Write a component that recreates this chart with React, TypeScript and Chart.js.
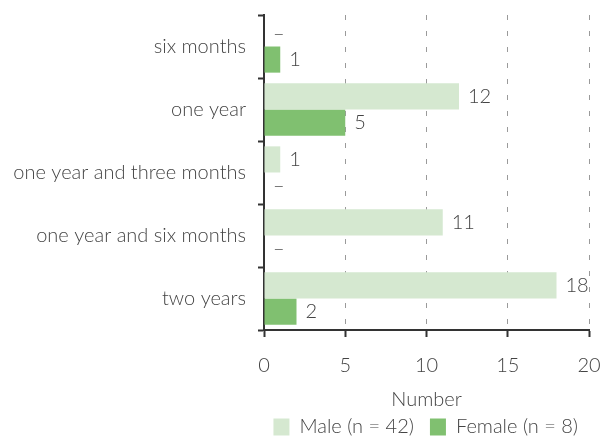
import React, { useEffect, useRef } from "react";
import { Chart, registerables } from "chart.js";

Chart.register(...registerables);

const categories = [
  "six months",
  "one year",
  "one year and three months",
  "one year and six months",
  "two years",
];
const maleValues = [0, 12, 1, 11, 18];
const femaleValues = [1, 5, 0, 0, 2];
const seriesNames = ["Male (n = 42)", "Female (n = 8)"];
const xTitle = "Number";

const FONT = "Lato";
const TEXT = "#444";
const SIZE = 20;

const valueLabels = {
  id: "valueLabels",
  afterDatasetsDraw(chart: any) {
    const ctx = chart.ctx;
    ctx.save();
    ctx.font = `300 ${SIZE}px ${FONT}`;
    ctx.fillStyle = TEXT;
    ctx.textBaseline = "middle";
    ctx.textAlign = "left";
    chart.data.datasets.forEach((ds: any, i: number) => {
      const meta = chart.getDatasetMeta(i);
      meta.data.forEach((el: any, j: number) => {
        const v = ds.data[j];
        const txt = v === 0 ? "–" : String(v);
        ctx.fillText(txt, el.x + 9, el.y);
      });
    });
    ctx.restore();
  },
};

export default function App() {
  const ref = useRef<HTMLCanvasElement | null>(null);
  useEffect(() => {
    document.body.style.margin = "0";
    const font = { family: FONT, size: SIZE, weight: "300" as any };
    const chart = new Chart(ref.current!, {
      type: "bar",
      data: {
        labels: categories,
        datasets: [
          {
            label: seriesNames[0],
            data: maleValues,
            backgroundColor: "#d5e8d0",
            categoryPercentage: 0.83,
            barPercentage: 1,
          },
          {
            label: seriesNames[1],
            data: femaleValues,
            backgroundColor: "#80c070",
            categoryPercentage: 0.83,
            barPercentage: 1,
          },
        ],
      },
      options: {
        indexAxis: "y",
        animation: false,
        responsive: false,
        layout: { padding: { top: 15, right: 6, left: 0, bottom: -9 } },
        plugins: {
          tooltip: { enabled: false },
          legend: {
            position: "bottom",
            fullSize: true,
            align: "end",
            labels: {
              boxWidth: 16,
              boxHeight: 17,
              color: TEXT,
              padding: 16,
              font,
            },
          },
        },
        scales: {
          x: {
            min: 0,
            max: 20,
            afterFit: (s: any) => {
              s.height = 71;
              s.paddingLeft = 0;
              s.paddingRight = 11;
            },
            ticks: {
              stepSize: 5,
              color: TEXT,
              padding: 17,
              font,
            },
            grid: {
              color: (c: any) => (c.tick && c.tick.value === 0 ? "rgba(0,0,0,0)" : "#9a9a9a"),
              tickColor: "#333",
              tickBorderDash: [],
              tickLength: 7,
              lineWidth: 1,
              tickWidth: 2,
            } as any,
            border: { display: true, color: "#333", width: 2, dash: [5, 11] },
            title: {
              display: true,
              text: xTitle,
              color: TEXT,
              padding: { top: 0, bottom: -11 },
              font,
            },
          },
          y: {
            afterFit: (s: any) => {
              s.width = 264;
              s.paddingTop = 0;
              s.paddingBottom = 0;
            },
            ticks: {
              color: TEXT,
              padding: 12,
              font,
            },
            grid: {
              offset: true,
              drawOnChartArea: false,
              drawTicks: true,
              tickLength: 6,
              color: "#333",
              tickColor: "#333",
              tickWidth: 2,
            } as any,
            border: { display: true, color: "#333", width: 2 },
          },
        },
      },
      plugins: [valueLabels],
    });
    return () => chart.destroy();
  }, []);
  return (
    <div style={{ width: 600, height: 438 }}>
      <canvas ref={ref} width={600} height={438} />
    </div>
  );
}
